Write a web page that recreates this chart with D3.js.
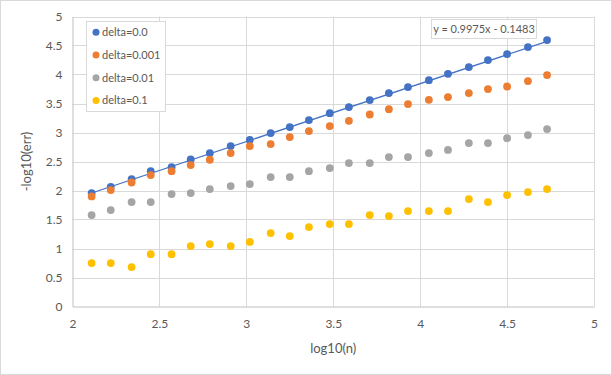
<!DOCTYPE html>
<html>
<head>
<meta charset="utf-8">
<script src="https://cdn.jsdelivr.net/npm/d3@7"></script>
<style>
  html, body { margin: 0; padding: 0; background: #fff; }
  svg { display: block; }
  text { font-family: Lato, "Open Sans", sans-serif; fill: #595959; }
</style>
</head>
<body>
<svg id="chart" width="612" height="375"></svg>
<script>
// ---- data ----
const logN = [2.11, 2.22, 2.34, 2.45, 2.57, 2.68, 2.79, 2.91, 3.02, 3.14, 3.25, 3.36,
              3.48, 3.59, 3.71, 3.82, 3.93, 4.05, 4.16, 4.28, 4.39, 4.50, 4.62, 4.73];
const delta0    = [1.955, 2.064, 2.197, 2.334, 2.403, 2.535, 2.645, 2.766, 2.874, 2.990, 3.093, 3.214,
                   3.334, 3.438, 3.559, 3.679, 3.783, 3.903, 4.012, 4.128, 4.248, 4.352, 4.472, 4.593];
const delta0001 = [1.897, 2.007, 2.138, 2.266, 2.334, 2.438, 2.530, 2.645, 2.766, 2.800, 2.921, 3.024,
                   3.110, 3.202, 3.310, 3.403, 3.490, 3.564, 3.610, 3.679, 3.748, 3.793, 3.886, 3.990];
const delta001  = [1.576, 1.662, 1.800, 1.800, 1.938, 1.955, 2.024, 2.076, 2.110, 2.231, 2.231, 2.334,
                   2.386, 2.472, 2.472, 2.576, 2.576, 2.645, 2.700, 2.817, 2.817, 2.903, 2.955, 3.059];
const delta01   = [0.748, 0.748, 0.679, 0.903, 0.903, 1.041, 1.076, 1.041, 1.113, 1.266, 1.214, 1.369,
                   1.421, 1.421, 1.576, 1.559, 1.645, 1.645, 1.645, 1.852, 1.800, 1.921, 1.972, 2.024];
const seriesNames = ["delta=0.0", "delta=0.001", "delta=0.01", "delta=0.1"];
const seriesColors = ["#4472C4", "#ED7D31", "#A5A5A5", "#FFC000"];
const xTicks = [2, 2.5, 3, 3.5, 4, 4.5, 5];
const yTicks = [0, 0.5, 1, 1.5, 2, 2.5, 3, 3.5, 4, 4.5, 5];
const trendSlope = 0.9975;
const trendIntercept = -0.1483;
const trendLabel = "y = 0.9975x - 0.1483";
const xTitle = "log10(n)";
const yTitle = "-log10(err)";

// ---- layout ----
const svg = d3.select("#chart");
const W = 612, H = 375;
const plot = { left: 72.5, right: 594, top: 16.5, bottom: 306.5 };

svg.append("rect").attr("x", 0.5).attr("y", 0.5).attr("width", W - 1).attr("height", H - 1)
  .attr("fill", "#fff").attr("stroke", "#d9d9d9");

const x = d3.scaleLinear().domain([2, 5]).range([plot.left, plot.right]);
const y = d3.scaleLinear().domain([0, 5]).range([plot.bottom, plot.top]);

// gridlines
const g = svg.append("g");
g.selectAll("line.vg").data(xTicks.slice(1)).join("line")
  .attr("x1", d => Math.round(x(d)) + 0.5).attr("x2", d => Math.round(x(d)) + 0.5)
  .attr("y1", plot.top).attr("y2", plot.bottom)
  .attr("stroke", "#d9d9d9").attr("stroke-width", 1);
g.selectAll("line.hg").data(yTicks.slice(1)).join("line")
  .attr("x1", plot.left).attr("x2", plot.right)
  .attr("y1", d => Math.round(y(d)) + 0.5).attr("y2", d => Math.round(y(d)) + 0.5)
  .attr("stroke", "#d9d9d9").attr("stroke-width", 1);

// axes
const xAxis = d3.axisBottom(x).tickValues(xTicks).tickSize(0).tickPadding(13).tickFormat(d3.format("~g"));
const yAxis = d3.axisLeft(y).tickValues(yTicks).tickSize(0).tickPadding(10).tickFormat(d3.format("~g"));
const gx = svg.append("g").attr("transform", `translate(0,${plot.bottom})`).call(xAxis);
const gy = svg.append("g").attr("transform", `translate(${plot.left},0)`).call(yAxis);
[gx, gy].forEach(a => {
  a.select(".domain").attr("stroke", "#bfbfbf");
  a.selectAll("text").style("font-size", "12px").style("font-family", "Lato, sans-serif").attr("fill", "#595959");
});

// axis titles
svg.append("text").attr("x", (plot.left + plot.right) / 2).attr("y", 353)
  .attr("text-anchor", "middle").style("font-size", "13px").text(xTitle);
svg.append("text").attr("transform", `translate(31,${(plot.top + plot.bottom) / 2}) rotate(-90)`)
  .attr("text-anchor", "middle").style("font-size", "13px").text(yTitle);

// trendline
const xMin = d3.min(logN), xMax = d3.max(logN);
svg.append("line")
  .attr("x1", x(xMin)).attr("y1", y(trendSlope * xMin + trendIntercept))
  .attr("x2", x(xMax)).attr("y2", y(trendSlope * xMax + trendIntercept))
  .attr("stroke", seriesColors[0]).attr("stroke-width", 1.25);

// points
const allSeries = [delta0, delta0001, delta001, delta01];
allSeries.forEach((vals, i) => {
  svg.append("g").selectAll("circle").data(vals).join("circle")
    .attr("cx", (d, j) => x(logN[j])).attr("cy", d => y(d)).attr("r", 3.9)
    .attr("fill", seriesColors[i]);
});

// trendline label
const lbl = svg.append("g");
lbl.append("rect").attr("x", 431.5).attr("y", 19.5).attr("width", 105).attr("height", 19)
  .attr("fill", "#fff").attr("stroke", "#d9d9d9");
lbl.append("text").attr("x", 484).attr("y", 33.2).attr("text-anchor", "middle")
  .style("font-size", "11px").text(trendLabel);

// legend
const leg = svg.append("g");
leg.append("rect").attr("x", 86.5).attr("y", 21.5).attr("width", 79).attr("height", 90)
  .attr("fill", "#fff").attr("stroke", "#d9d9d9");
const rowY = [31.7, 54.5, 77.3, 100];
seriesNames.forEach((name, i) => {
  leg.append("circle").attr("cx", 96).attr("cy", rowY[i] + 0.5).attr("r", 3.5).attr("fill", seriesColors[i]);
  leg.append("text").attr("x", 102).attr("y", rowY[i] + 4.3).style("font-size", "11px").text(name);
});
</script>
</body>
</html>
